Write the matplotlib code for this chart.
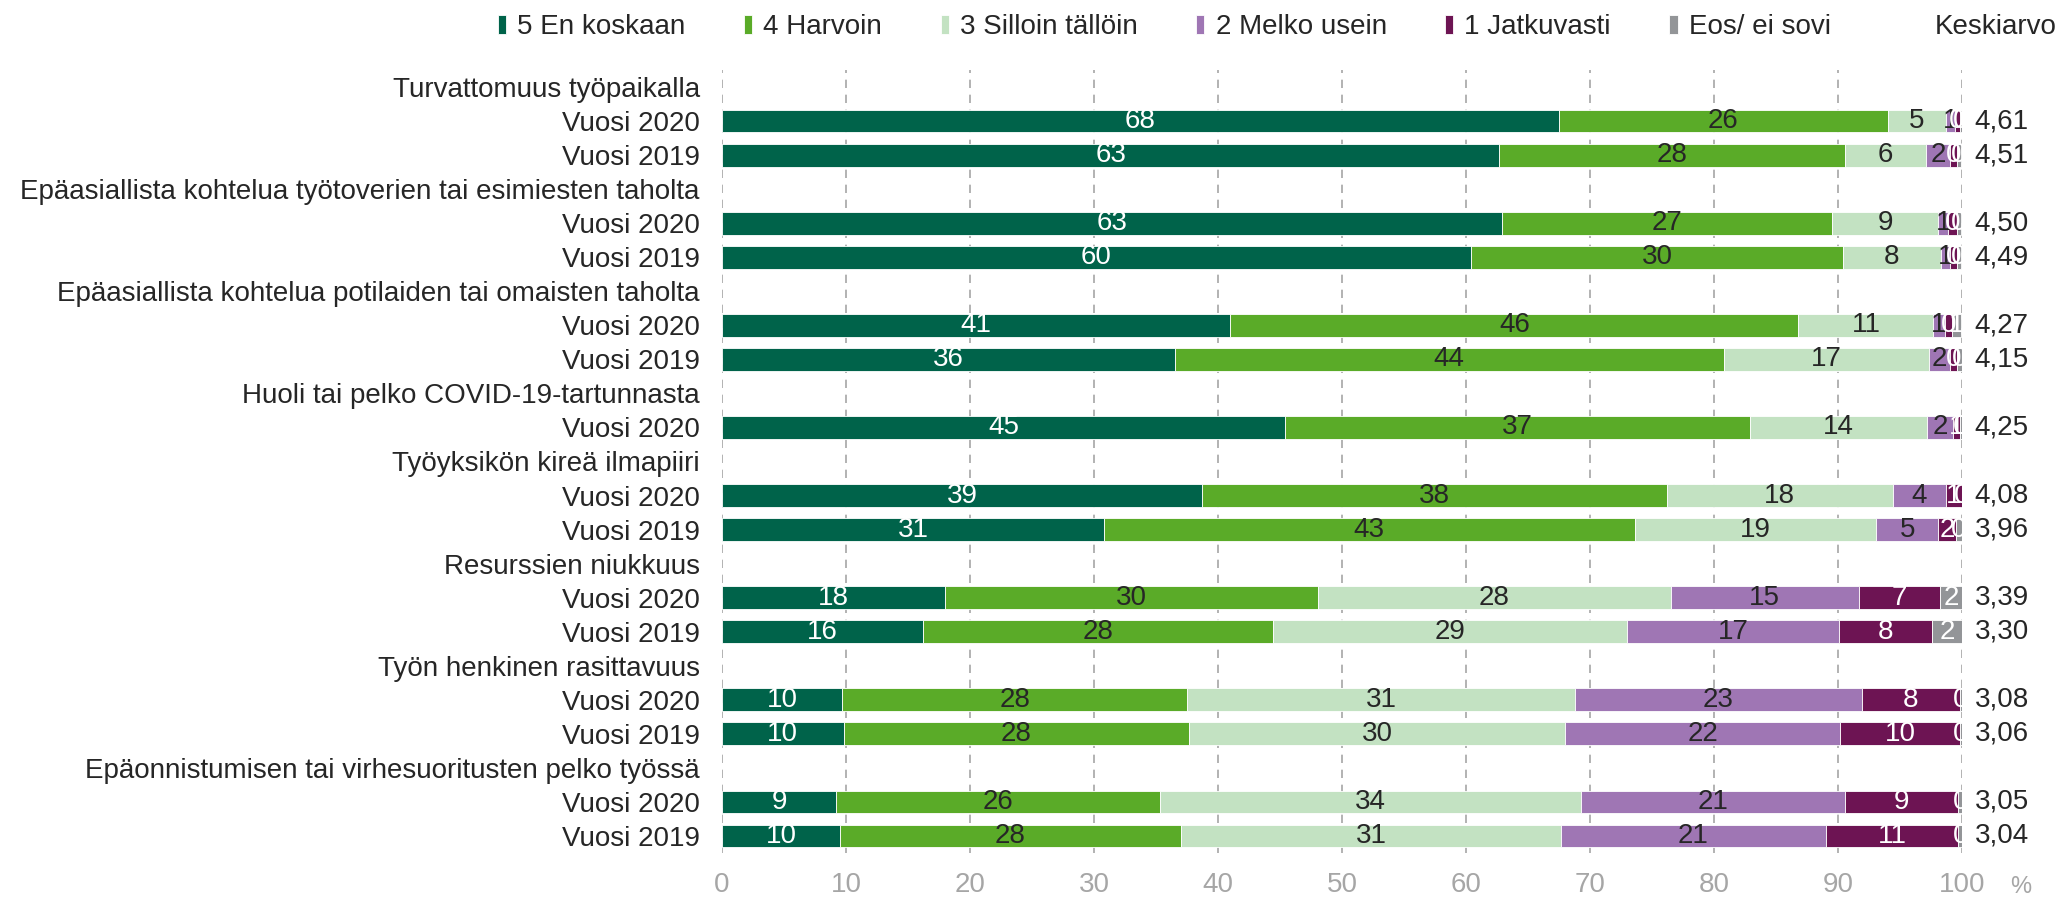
import numpy as np
import matplotlib
matplotlib.use("Agg")
import matplotlib.pyplot as plt

plt.rcParams['font.family'] = ['Liberation Sans', 'DejaVu Sans']

# aiheet ja vuodet
groups = ["Turvattomuus työpaikalla",
          "Epäasiallista kohtelua työtoverien tai esimiesten taholta",
          "Epäasiallista kohtelua potilaiden tai omaisten taholta",
          "Huoli tai pelko COVID-19-tartunnasta",
          "Työyksikön kireä ilmapiiri",
          "Resurssien niukkuus",
          "Työn henkinen rasittavuus",
          "Epäonnistumisen tai virhesuoritusten pelko työssä"]
years = [["Vuosi 2020", "Vuosi 2019"], ["Vuosi 2020", "Vuosi 2019"],
         ["Vuosi 2020", "Vuosi 2019"], ["Vuosi 2020"],
         ["Vuosi 2020", "Vuosi 2019"], ["Vuosi 2020", "Vuosi 2019"],
         ["Vuosi 2020", "Vuosi 2019"], ["Vuosi 2020", "Vuosi 2019"]]

series_names = ["5 En koskaan", "4 Harvoin", "3 Silloin tällöin", "2 Melko usein", "1 Jatkuvasti", "Eos/ ei sovi"]

# osuudet (%) palkeittain ylhäältä alas
en_koskaan = [67.5, 62.7, 62.9, 60.4, 41.0, 36.5, 45.4, 38.7, 30.8, 18.0, 16.2, 9.7, 9.8, 9.2, 9.5]
harvoin    = [26.5, 27.9, 26.6, 30.0, 45.8, 44.3, 37.5, 37.5, 42.8, 30.1, 28.2, 27.8, 27.9, 26.1, 27.5]
silloin    = [4.7, 6.5, 8.6, 7.9, 10.9, 16.5, 14.3, 18.2, 19.5, 28.4, 28.6, 31.3, 30.3, 34.0, 30.7]
melko      = [0.7, 1.9, 0.8, 0.7, 0.9, 1.7, 2.1, 4.3, 5.0, 15.2, 17.1, 23.1, 22.2, 21.3, 21.3]
jatkuvasti = [0.4, 0.6, 0.7, 0.6, 0.6, 0.6, 0.5, 1.3, 1.4, 6.5, 7.5, 7.9, 9.6, 9.1, 10.7]
eos        = [0.2, 0.3, 0.3, 0.3, 0.7, 0.4, 0.3, 0.0, 0.6, 1.8, 2.4, 0.2, 0.2, 0.3, 0.3]

# palkkien tekstit (pyöristetyt)
lab_en    = [68, 63, 63, 60, 41, 36, 45, 39, 31, 18, 16, 10, 10, 9, 10]
lab_harv  = [26, 28, 27, 30, 46, 44, 37, 38, 43, 30, 28, 28, 28, 26, 28]
lab_sill  = [5, 6, 9, 8, 11, 17, 14, 18, 19, 28, 29, 31, 30, 34, 31]
lab_melko = [1, 2, 1, 1, 1, 2, 2, 4, 5, 15, 17, 23, 22, 21, 21]
lab_jatk  = [0, 0, 0, 0, 0, 0, 1, 1, 2, 7, 8, 8, 10, 9, 11]
lab_eos   = [0, 0, 0, 0, 1, 0, 0, 0, 0, 2, 2, 0, 0, 0, 0]

keskiarvo = [4.61, 4.51, 4.50, 4.49, 4.27, 4.15, 4.25, 4.08, 3.96, 3.39, 3.30, 3.08, 3.06, 3.05, 3.04]

colors = ["#00634A", "#5AAB28", "#C3E2C2", "#9F76B4", "#6D1453", "#939598"]
txt_colors = ["white", "#262626", "#262626", "#262626", "white", "white"]
dark = "#262626"
grey = "#A6A6A6"

# rivit: otsikko + vuodet
row_labels = []
bar_pos = []
for g, ys in zip(groups, years):
    row_labels.append(g)
    for y in ys:
        bar_pos.append(len(row_labels))
        row_labels.append(y)
bar_pos = np.array(bar_pos)

fig = plt.figure(figsize=(20.67, 9.01), dpi=100)
ax = fig.add_axes([722/2067, 1-853/901, 1240/2067, 783/901])

vals = [en_koskaan, harvoin, silloin, melko, jatkuvasti, eos]
labs = [lab_en, lab_harv, lab_sill, lab_melko, lab_jatk, lab_eos]
left = np.zeros(len(bar_pos))
for name, v, l, c, tc in zip(series_names, vals, labs, colors, txt_colors):
    v = np.array(v)
    bars = ax.barh(bar_pos, v, left=left, height=0.67, color=c,
                   edgecolor="white", linewidth=0.6, label=name, zorder=2)
    ax.bar_label(bars, labels=[str(x) for x in l], label_type="center",
                 color=tc, fontsize=20)
    left += v

for y, m in zip(bar_pos, keskiarvo):
    ax.text(101.0, y, f"{m:.2f}".replace(".", ","), va="center", ha="left",
            fontsize=20, color=dark, clip_on=False)

ax.set_xlim(0, 100)
ax.set_ylim(len(row_labels) - 0.5, -0.5)
ax.set_yticks(range(len(row_labels)))
ax.set_yticklabels(row_labels, fontsize=20, color=dark)
ax.set_xticks(range(0, 101, 10))
ax.tick_params(axis="x", length=0, pad=14, labelsize=20, labelcolor=grey)
ax.tick_params(axis="y", length=0, pad=16)
for s in ax.spines.values():
    s.set_visible(False)
ax.grid(axis="x", color=grey, linestyle=(0, (5, 4)), linewidth=1.2, zorder=0)
ax.set_axisbelow(True)

fig.text(2010/2067, 1-887/901, "%", fontsize=17, color=grey, va="center", ha="left")

fig.legend(loc="center left", bbox_to_anchor=(498/2067, 1-27/901), ncol=6,
           frameon=False, fontsize=20, handlelength=0.3, handleheight=0.7,
           handletextpad=0.4, columnspacing=2.1, borderpad=0, borderaxespad=0,
           labelcolor=dark)
fig.text(1935/2067, 1-27/901, "Keskiarvo", fontsize=20, color=dark, va="center", ha="left")

fig.savefig("out.png", dpi=100)
